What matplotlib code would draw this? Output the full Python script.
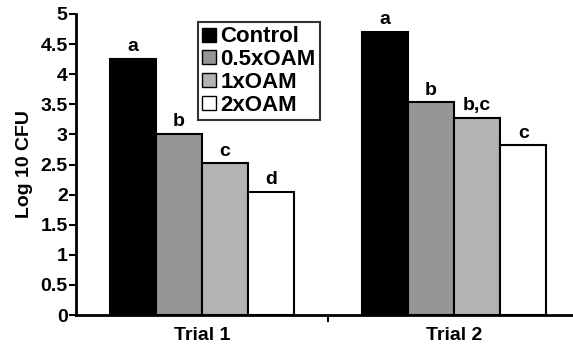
import numpy as np
import matplotlib
matplotlib.use('Agg')
import matplotlib.pyplot as plt

plt.rcParams['font.family'] = ['Liberation Sans', 'DejaVu Sans']
plt.rcParams['font.weight'] = 'bold'

trials = ['Trial 1', 'Trial 2']
treatments = ['Control', '0.5xOAM', '1xOAM', '2xOAM']
values = {
    'Control': [4.26, 4.70],
    '0.5xOAM': [3.01, 3.53],
    '1xOAM': [2.52, 3.28],
    '2xOAM': [2.05, 2.82],
}
letters = {
    'Control': ['a', 'a'],
    '0.5xOAM': ['b', 'b'],
    '1xOAM': ['c', 'b,c'],
    '2xOAM': ['d', 'c'],
}
colors = ['#000000', '#969696', '#b3b3b3', '#ffffff']
fs = 14

fig = plt.figure(figsize=(5.73, 3.5), dpi=100)
ax = fig.add_axes([76/573, 35/350, 1 - 76/573, 301/350])

x = np.arange(len(trials))
w = 0.183
for i, t in enumerate(treatments):
    pos = x + (i - 1.5) * w
    ax.bar(pos, values[t], w, color=colors[i], edgecolor='black',
           linewidth=1.5, label=t, zorder=2)
    for p, v, l in zip(pos, values[t], letters[t]):
        ax.text(p, v + 0.06, l, ha='center', va='bottom', fontsize=fs,
                fontweight='bold')

ax.set_ylim(0, 5)
ax.set_xlim(-0.5, 1.472)
ax.set_yticks(np.arange(0, 5.01, 0.5))
ax.set_yticklabels(['0', '0.5', '1', '1.5', '2', '2.5', '3', '3.5', '4', '4.5', '5'])
ax.set_xticks([0.5])
ax.set_xticklabels([''])
ax.set_xticks(x, minor=True)
ax.set_xticklabels(trials, minor=True)
ax.tick_params(axis='x', which='minor', length=0, labelsize=fs, pad=9)
ax.tick_params(axis='x', which='major', length=5, width=1.5, direction='out')
ax.tick_params(axis='y', length=5, width=1.5, direction='out', labelsize=fs, pad=1)
for lab in ax.get_xticklabels(minor=True) + ax.get_yticklabels():
    lab.set_fontweight('bold')

for s in ['top', 'right']:
    ax.spines[s].set_visible(False)
for s in ['left', 'bottom']:
    ax.spines[s].set_linewidth(2)

ax.set_ylabel('Log 10 CFU', fontsize=fs, fontweight='bold', labelpad=5)

leg = ax.legend(loc='upper left', bbox_to_anchor=(198/573, 1 - 22/350),
                bbox_transform=fig.transFigure, frameon=True, fancybox=False,
                fontsize=16, handlelength=0.6, handleheight=0.6,
                handletextpad=0.2, borderpad=0.2, labelspacing=0.08,
                borderaxespad=0)
leg.get_frame().set_edgecolor('black')
leg.get_frame().set_linewidth(1.5)
for h in leg.legend_handles:
    h.set_linewidth(1)
for txt in leg.get_texts():
    txt.set_fontweight('bold')

fig.savefig('out.png', dpi=100)
